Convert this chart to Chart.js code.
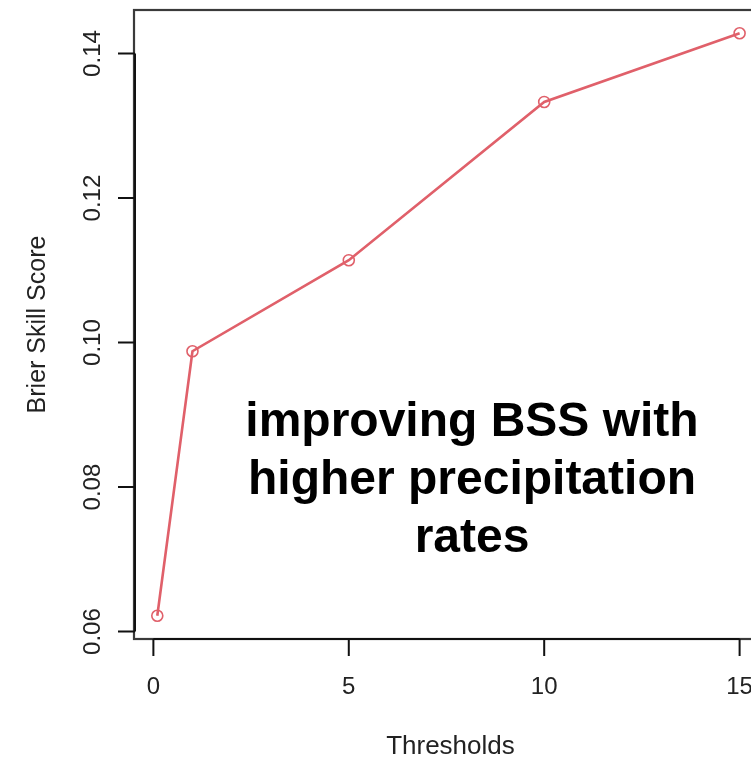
<!DOCTYPE html>
<html>
<head>
<meta charset="utf-8">
<script src="https://cdn.jsdelivr.net/npm/chart.js@4/dist/chart.umd.min.js"></script>
<style>
html,body{margin:0;padding:0;background:#fff;overflow:hidden;}
#wrap{width:770px;height:760px;}
</style>
</head>
<body>
<div id="wrap"><canvas id="c" width="770" height="760"></canvas></div>
<script>
// ---- data ----
const thresholds = [0.1, 1, 5, 10, 15];
const bss = [0.0622, 0.0988, 0.1114, 0.1333, 0.1428];
const xTicks = [0, 5, 10, 15];
const yTicks = [0.06, 0.08, 0.10, 0.12, 0.14];
const yTickLabels = ['0.06', '0.08', '0.10', '0.12', '0.14'];
const xTitle = 'Thresholds';
const yTitle = 'Brier Skill Score';
const noteLines = ['improving BSS with', 'higher precipitation', 'rates'];

// R-style 4% axis extension
function ext(arr){const mn=Math.min(...arr),mx=Math.max(...arr),d=(mx-mn)*0.04;return [mn-d,mx+d];}
const [xmin,xmax]=ext(thresholds);
const [ymin,ymax]=ext(bss);

const FONT='"Liberation Sans", Arial, Helvetica, sans-serif';

const rAxes = {
  id:'rAxes',
  afterDraw(chart){
    const ctx=chart.ctx, a=chart.chartArea, xs=chart.scales.x, ys=chart.scales.y;
    ctx.save();
    // box
    ctx.strokeStyle='#3a3a3a'; ctx.lineWidth=2.2;
    ctx.strokeRect(a.left, a.top, a.right-a.left, a.bottom-a.top);
    // y axis
    ctx.strokeStyle='#111'; ctx.lineWidth=2;
    ctx.beginPath();
    ctx.moveTo(a.left+1, ys.getPixelForValue(yTicks[0]));
    ctx.lineTo(a.left+1, ys.getPixelForValue(yTicks[yTicks.length-1]));
    yTicks.forEach(v=>{const p=ys.getPixelForValue(v);ctx.moveTo(a.left+1,p);ctx.lineTo(a.left-16,p);});
    ctx.stroke();
    // x axis
    ctx.beginPath();
    ctx.moveTo(xs.getPixelForValue(xTicks[0]), a.bottom);
    ctx.lineTo(xs.getPixelForValue(xTicks[xTicks.length-1]), a.bottom);
    xTicks.forEach(v=>{const p=xs.getPixelForValue(v);ctx.moveTo(p,a.bottom);ctx.lineTo(p,a.bottom+17);});
    ctx.stroke();
    // tick labels
    ctx.fillStyle='#222'; ctx.font='24px '+FONT;
    ctx.textAlign='center'; ctx.textBaseline='alphabetic';
    xTicks.forEach(v=>{ctx.fillText(String(v), xs.getPixelForValue(v), 694);});
    yTicks.forEach((v,i)=>{
      ctx.save(); ctx.translate(100, ys.getPixelForValue(v)); ctx.rotate(-Math.PI/2);
      ctx.fillText(yTickLabels[i],0,0); ctx.restore();
    });
    // titles
    ctx.font='26px '+FONT;
    ctx.fillText(xTitle, (a.left+a.right)/2 + 2, 754);
    ctx.font='25px '+FONT;
    ctx.save(); ctx.translate(45,(a.top+a.bottom)/2); ctx.rotate(-Math.PI/2);
    ctx.fillText(yTitle,0,0); ctx.restore();
    // annotation
    ctx.fillStyle='#000'; ctx.font='bold 48px '+FONT;
    const cx=472, y0=436, lh=58;
    noteLines.forEach((t,i)=>ctx.fillText(t,cx,y0+i*lh));
    ctx.restore();
  }
};

new Chart(document.getElementById('c'), {
  type:'scatter',
  data:{datasets:[{
    data: thresholds.map((x,i)=>({x:x,y:bss[i]})),
    showLine:true,
    borderColor:'#e0606a',
    borderWidth:2.6,
    pointRadius:5.5,
    pointBorderWidth:1.6,
    pointBorderColor:'#e0606a',
    pointBackgroundColor:'rgba(0,0,0,0)',
    tension:0
  }]},
  options:{
    responsive:false,
    animation:false,
    devicePixelRatio:1,
    layout:{padding:{left:134,right:7,top:10,bottom:121}},
    plugins:{legend:{display:false},tooltip:{enabled:false}},
    scales:{
      x:{type:'linear',min:xmin,max:xmax,display:false},
      y:{type:'linear',min:ymin,max:ymax,display:false}
    }
  },
  plugins:[rAxes]
});
</script>
</body>
</html>
